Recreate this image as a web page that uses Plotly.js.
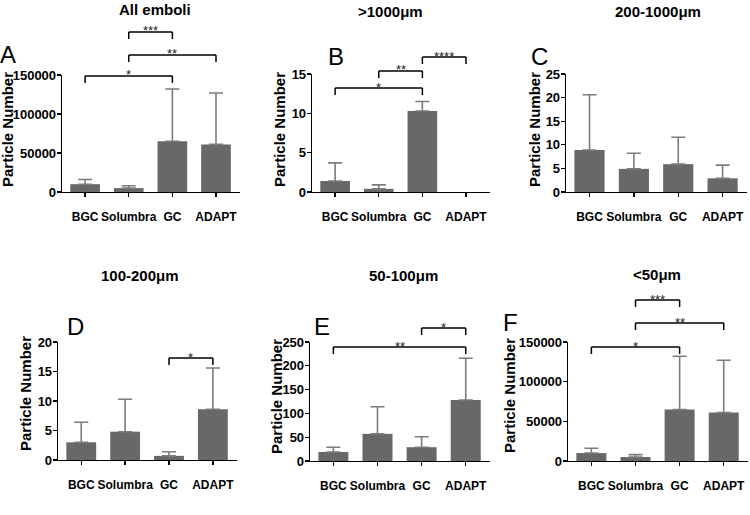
<!DOCTYPE html>
<html><head><meta charset="utf-8">
<script src="https://cdn.plot.ly/plotly-3.0.1.min.js"></script>
<style>html,body{margin:0;padding:0;background:#fff}#chart{width:750px;height:515px}</style>
</head><body><div id="chart"></div>
<script>
// ---------- data ----------
const categories = ['BGC', 'Solumbra', 'GC', 'ADAPT'];
const panelTitles = ['All emboli', '>1000μm', '200-1000μm', '100-200μm', '50-100μm', '<50μm'];
const panelLetters = ['A', 'B', 'C', 'D', 'E', 'F'];
const yLabel = 'Particle Number';

const meanAll = [10000, 5000, 65000, 61000];
const topAll = [16000, 8000, 132000, 127000];
const mean1000 = [1.4, 0.4, 10.3, 0];
const top1000 = [3.7, 0.9, 11.5, 0];
const mean200 = [8.9, 4.9, 5.9, 2.9];
const top200 = [20.6, 8.2, 11.6, 5.7];
const mean100 = [3.0, 4.8, 0.7, 8.6];
const top100 = [6.4, 10.3, 1.4, 15.6];
const mean50 = [19, 57, 29, 128];
const top50 = [29, 114, 51, 216];
const meanLt50 = [10000, 5000, 65000, 61000];
const topLt50 = [16000, 8000, 132000, 127000];

const yMax = [150000, 15, 25, 20, 250, 150000];
const yStep = [50000, 5, 5, 5, 50, 50000];

const sigAll = [[0, 2, '*'], [1, 3, '**'], [1, 2, '***']];
const sig1000 = [[0, 2, '*'], [1, 2, '**'], [2, 3, '****']];
const sig200 = [];
const sig100 = [[2, 3, '*']];
const sig50 = [[0, 3, '**'], [2, 3, '*']];
const sigLt50 = [[0, 2, '*'], [1, 3, '**'], [1, 2, '***']];

// ---------- layout config (pixels) ----------
const W = 750, H = 515;
const domains = [[62, 240, 75, 192], [312, 490, 74, 192], [566, 747, 74, 192],
                 [58, 237, 342, 460], [310, 490, 342, 461], [568, 748, 342, 461]];
const bracketY = [[76, 55, 32], [88, 71, 57], [], [358], [347, 328], [347, 323, 300]];
const titlePos = [[155, 9], [390, 12], [658, 12], [140, 275], [404, 275], [657, 274]];
const letterPos = [[8, 55], [336, 56], [539, 56], [75, 326], [322, 326], [510, 322]];
const yTitlePos = [[7, 130], [279, 130], [534, 130], [25, 394], [276, 397], [509, 396]];

const means = [meanAll, mean1000, mean200, mean100, mean50, meanLt50];
const tops = [topAll, top1000, top200, top100, top50, topLt50];
const sigs = [sigAll, sig1000, sig200, sig100, sig50, sigLt50];

const FONT = 'Liberation Sans, Arial, sans-serif';
const BAR = '#686868';
const ERR = '#7c7c7c';
const px = x => x / W;
const py = y => 1 - y / H;
const boldFont = size => ({family: FONT, size: size, weight: 'bold', color: '#000'});

const traces = [];
const layout = {
  width: W, height: H,
  margin: {l: 0, r: 0, t: 0, b: 0},
  showlegend: false,
  shapes: [], annotations: []
};
const xIdx = categories.map((_, i) => i);

for (let p = 0; p < 6; p++) {
  const sfx = p === 0 ? '' : String(p + 1);
  const d = domains[p];
  const hasErr = tops[p].map((t, i) => t - means[p][i] > 0);
  traces.push({
    type: 'bar', x: xIdx, y: means[p], width: 0.68,
    xaxis: 'x' + sfx, yaxis: 'y' + sfx,
    marker: {color: BAR},
    error_y: {
      type: 'data', symmetric: false,
      array: tops[p].map((t, i) => hasErr[i] ? t - means[p][i] : NaN),
      arrayminus: tops[p].map((t, i) => hasErr[i] ? 0 : NaN),
      color: ERR, thickness: 1.6, width: 7
    },
    hoverinfo: 'none'
  });
  layout['xaxis' + sfx] = {
    domain: [px(d[0]), px(d[1])], anchor: 'y' + sfx,
    range: [-0.53, 3.55], tickvals: xIdx, ticktext: categories, tickangle: 0,
    ticks: 'outside', ticklen: 4, tickwidth: 1.3, tickcolor: '#000', ticklabelstandoff: 9,
    showline: true, linecolor: '#000', linewidth: 1.3, showgrid: false, zeroline: false,
    tickfont: boldFont(12)
  };
  layout['yaxis' + sfx] = {
    domain: [py(d[3]), py(d[2])], anchor: 'x' + sfx,
    range: [0, yMax[p]], dtick: yStep[p], tick0: 0, tickformat: 'd',
    ticks: 'outside', ticklen: 4, tickwidth: 1.3, tickcolor: '#000', ticklabelstandoff: -2,
    showline: true, linecolor: '#000', linewidth: 1.3, showgrid: false, zeroline: false,
    tickfont: boldFont(13)
  };
  layout.annotations.push({
    text: panelTitles[p], xref: 'paper', yref: 'paper', x: px(titlePos[p][0]), y: py(titlePos[p][1]),
    xanchor: 'center', yanchor: 'middle', showarrow: false, font: boldFont(15)
  });
  layout.annotations.push({
    text: panelLetters[p], xref: 'paper', yref: 'paper', x: px(letterPos[p][0]), y: py(letterPos[p][1]),
    xanchor: 'center', yanchor: 'middle', showarrow: false,
    font: {family: FONT, size: 24, color: '#000'}
  });
  layout.annotations.push({
    text: yLabel, textangle: -90, xref: 'paper', yref: 'paper', x: px(yTitlePos[p][0]), y: py(yTitlePos[p][1]),
    xanchor: 'center', yanchor: 'middle', showarrow: false, font: boldFont(15)
  });
  sigs[p].forEach((s, k) => {
    const yb = bracketY[p][k];
    const line = {color: '#000', width: 1.5};
    const xr = 'x' + sfx;
    layout.shapes.push({type: 'line', xref: xr, yref: 'paper', x0: s[0], x1: s[1], y0: py(yb), y1: py(yb), line});
    layout.shapes.push({type: 'line', xref: xr, yref: 'paper', x0: s[0], x1: s[0], y0: py(yb), y1: py(yb + 7), line});
    layout.shapes.push({type: 'line', xref: xr, yref: 'paper', x0: s[1], x1: s[1], y0: py(yb), y1: py(yb + 7), line});
    layout.annotations.push({
      text: s[2], xref: xr, yref: 'paper', x: (s[0] + s[1]) / 2, y: py(yb - 1),
      xanchor: 'center', yanchor: 'middle', showarrow: false,
      font: {family: FONT, size: 13, color: '#222'}
    });
  });
}

Plotly.newPlot('chart', traces, layout, {staticPlot: true});
</script>
</body></html>
